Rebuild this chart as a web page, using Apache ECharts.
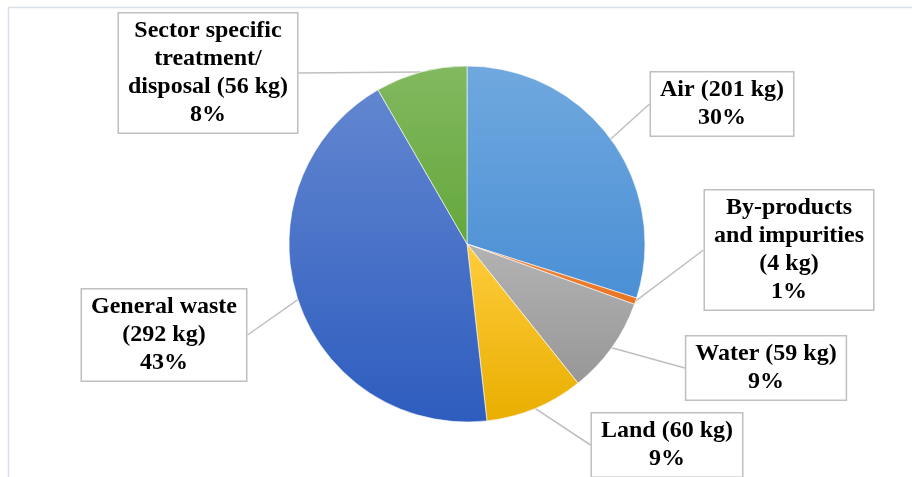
<!DOCTYPE html>
<html>
<head>
<meta charset="utf-8">
<title>Waste distribution</title>
<script src="https://cdn.jsdelivr.net/npm/echarts@6/dist/echarts.min.js"></script>
<style>
  html, body { margin: 0; padding: 0; background: #ffffff; }
  #chart { width: 912px; height: 477px; }
</style>
</head>
<body>
<div id="chart"></div>
<script>
// Categories, clockwise from 12 o'clock (line breaks as shown in the callouts)
const categories = [
  'Air',
  'By-products\nand impurities',
  'Water',
  'Land',
  'General waste',
  'Sector specific\ntreatment/\ndisposal'
];
// Separator between the name and the "(x kg)" part of each callout
const nameSeparators = [' ', '\n', ' ', ' ', '\n', ' '];
// Mass per category, kg
const massKg = [201, 4, 59, 60, 292, 56];

// Two-stop vertical gradient per slice (top colour, bottom colour)
const gradientTop = ['#70a8de', '#f08b46', '#b3b3b3', '#ffcd3d', '#6286d0', '#82b960'];
const gradientBottom = ['#4a8fd5', '#e8731f', '#979797', '#e9ae00', '#2e5dbf', '#65a73b'];

// Callout box centres
const calloutCentres = [
  [722, 104],
  [789, 250],
  [766, 368],
  [667, 445],
  [164, 335],
  [208, 73]
];

const total = massKg.reduce((a, b) => a + b, 0);

const seriesData = categories.map((name, i) => ({
  name: name,
  value: massKg[i],
  itemStyle: {
    color: new echarts.graphic.LinearGradient(0, 0, 0, 1, [
      { offset: 0, color: gradientTop[i] },
      { offset: 1, color: gradientBottom[i] }
    ])
  }
}));

const chart = echarts.init(document.getElementById('chart'), null, { renderer: 'canvas' });

chart.setOption({
  animation: false,
  backgroundColor: '#ffffff',
  graphic: [{
    type: 'rect',
    shape: { x: 8.5, y: 7.5, width: 1000, height: 1000 },
    style: { fill: 'none', stroke: '#d9e0e9', lineWidth: 1.5 },
    silent: true,
    z: -1
  }],
  series: [{
    type: 'pie',
    center: [467, 244],
    radius: 178,
    startAngle: 90,
    clockwise: true,
    avoidLabelOverlap: false,
    data: seriesData,
    itemStyle: { borderColor: '#ffffff', borderWidth: 0.6 },
    label: {
      show: true,
      position: 'outside',
      formatter: function (p) {
        const i = p.dataIndex;
        const pct = Math.round(massKg[i] / total * 100);
        return categories[i] + nameSeparators[i] + '(' + massKg[i] + ' kg)\n' + pct + '%';
      },
      fontFamily: '"Liberation Serif", "Times New Roman", serif',
      fontWeight: 'bold',
      fontSize: 24,
      lineHeight: 28,
      color: '#000000',
      align: 'center',
      backgroundColor: '#ffffff',
      borderColor: '#bfbfbf',
      borderWidth: 1.5,
      padding: [4, 9, 3, 9]
    },
    labelLine: {
      show: true,
      length: 12,
      length2: 0,
      lineStyle: { color: '#bfbfbf', width: 1.5 }
    },
    labelLayout: function (params) {
      const c = calloutCentres[params.dataIndex];
      return { x: c[0], y: c[1], align: 'center', verticalAlign: 'middle' };
    }
  }]
});
</script>
</body>
</html>
